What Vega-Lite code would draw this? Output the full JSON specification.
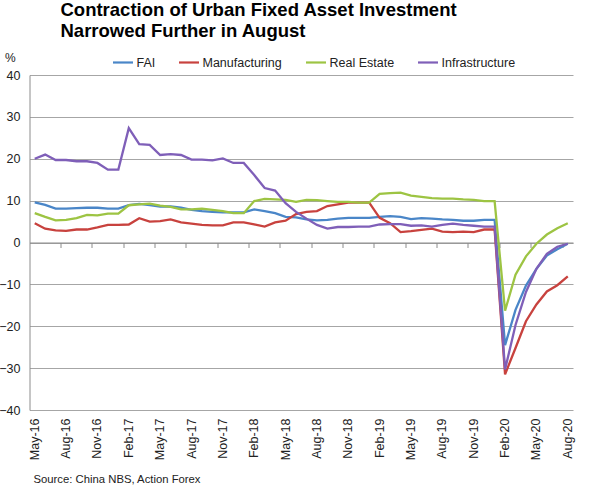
{
  "$schema": "https://vega.github.io/schema/vega-lite/v6.json",
  "width": 543.5,
  "height": 335,
  "autosize": "none",
  "padding": {"left": 29.5, "top": 75, "right": 27, "bottom": 77},
  "title": {
    "text": ["Contraction of Urban Fixed Asset Investment", "Narrowed Further in August"],
    "anchor": "start",
    "frame": "group",
    "font": "Liberation Sans",
    "fontSize": 18.5,
    "fontWeight": "bold",
    "color": "#000000",
    "lineHeight": 21,
    "dx": 31,
    "offset": 11
  },
  "data": {
    "values": [
      {"month": "May-16", "series": "FAI", "value": 9.6},
      {"month": "Jun-16", "series": "FAI", "value": 9.0},
      {"month": "Jul-16", "series": "FAI", "value": 8.1},
      {"month": "Aug-16", "series": "FAI", "value": 8.1},
      {"month": "Sep-16", "series": "FAI", "value": 8.2},
      {"month": "Oct-16", "series": "FAI", "value": 8.3},
      {"month": "Nov-16", "series": "FAI", "value": 8.3},
      {"month": "Dec-16", "series": "FAI", "value": 8.1},
      {"month": "Jan-17", "series": "FAI", "value": 8.1},
      {"month": "Feb-17", "series": "FAI", "value": 8.9},
      {"month": "Mar-17", "series": "FAI", "value": 9.2},
      {"month": "Apr-17", "series": "FAI", "value": 8.9},
      {"month": "May-17", "series": "FAI", "value": 8.6},
      {"month": "Jun-17", "series": "FAI", "value": 8.6},
      {"month": "Jul-17", "series": "FAI", "value": 8.3},
      {"month": "Aug-17", "series": "FAI", "value": 7.8},
      {"month": "Sep-17", "series": "FAI", "value": 7.5},
      {"month": "Oct-17", "series": "FAI", "value": 7.3},
      {"month": "Nov-17", "series": "FAI", "value": 7.2},
      {"month": "Dec-17", "series": "FAI", "value": 7.2},
      {"month": "Jan-18", "series": "FAI", "value": 7.2},
      {"month": "Feb-18", "series": "FAI", "value": 7.9},
      {"month": "Mar-18", "series": "FAI", "value": 7.5},
      {"month": "Apr-18", "series": "FAI", "value": 7.0},
      {"month": "May-18", "series": "FAI", "value": 6.1},
      {"month": "Jun-18", "series": "FAI", "value": 6.0},
      {"month": "Jul-18", "series": "FAI", "value": 5.5},
      {"month": "Aug-18", "series": "FAI", "value": 5.3},
      {"month": "Sep-18", "series": "FAI", "value": 5.4},
      {"month": "Oct-18", "series": "FAI", "value": 5.7},
      {"month": "Nov-18", "series": "FAI", "value": 5.9},
      {"month": "Dec-18", "series": "FAI", "value": 5.9},
      {"month": "Jan-19", "series": "FAI", "value": 5.9},
      {"month": "Feb-19", "series": "FAI", "value": 6.1},
      {"month": "Mar-19", "series": "FAI", "value": 6.3},
      {"month": "Apr-19", "series": "FAI", "value": 6.1},
      {"month": "May-19", "series": "FAI", "value": 5.6},
      {"month": "Jun-19", "series": "FAI", "value": 5.8},
      {"month": "Jul-19", "series": "FAI", "value": 5.7},
      {"month": "Aug-19", "series": "FAI", "value": 5.5},
      {"month": "Sep-19", "series": "FAI", "value": 5.4},
      {"month": "Oct-19", "series": "FAI", "value": 5.2},
      {"month": "Nov-19", "series": "FAI", "value": 5.2},
      {"month": "Dec-19", "series": "FAI", "value": 5.4},
      {"month": "Jan-20", "series": "FAI", "value": 5.4},
      {"month": "Feb-20", "series": "FAI", "value": -24.5},
      {"month": "Mar-20", "series": "FAI", "value": -16.1},
      {"month": "Apr-20", "series": "FAI", "value": -10.3},
      {"month": "May-20", "series": "FAI", "value": -6.3},
      {"month": "Jun-20", "series": "FAI", "value": -3.1},
      {"month": "Jul-20", "series": "FAI", "value": -1.6},
      {"month": "Aug-20", "series": "FAI", "value": -0.3},

      {"month": "May-16", "series": "Manufacturing", "value": 4.6},
      {"month": "Jun-16", "series": "Manufacturing", "value": 3.3},
      {"month": "Jul-16", "series": "Manufacturing", "value": 2.9},
      {"month": "Aug-16", "series": "Manufacturing", "value": 2.8},
      {"month": "Sep-16", "series": "Manufacturing", "value": 3.1},
      {"month": "Oct-16", "series": "Manufacturing", "value": 3.1},
      {"month": "Nov-16", "series": "Manufacturing", "value": 3.6},
      {"month": "Dec-16", "series": "Manufacturing", "value": 4.2},
      {"month": "Jan-17", "series": "Manufacturing", "value": 4.2},
      {"month": "Feb-17", "series": "Manufacturing", "value": 4.3},
      {"month": "Mar-17", "series": "Manufacturing", "value": 5.8},
      {"month": "Apr-17", "series": "Manufacturing", "value": 5.0},
      {"month": "May-17", "series": "Manufacturing", "value": 5.1},
      {"month": "Jun-17", "series": "Manufacturing", "value": 5.5},
      {"month": "Jul-17", "series": "Manufacturing", "value": 4.8},
      {"month": "Aug-17", "series": "Manufacturing", "value": 4.5},
      {"month": "Sep-17", "series": "Manufacturing", "value": 4.2},
      {"month": "Oct-17", "series": "Manufacturing", "value": 4.1},
      {"month": "Nov-17", "series": "Manufacturing", "value": 4.1},
      {"month": "Dec-17", "series": "Manufacturing", "value": 4.8},
      {"month": "Jan-18", "series": "Manufacturing", "value": 4.8},
      {"month": "Feb-18", "series": "Manufacturing", "value": 4.3},
      {"month": "Mar-18", "series": "Manufacturing", "value": 3.8},
      {"month": "Apr-18", "series": "Manufacturing", "value": 4.8},
      {"month": "May-18", "series": "Manufacturing", "value": 5.2},
      {"month": "Jun-18", "series": "Manufacturing", "value": 6.8},
      {"month": "Jul-18", "series": "Manufacturing", "value": 7.3},
      {"month": "Aug-18", "series": "Manufacturing", "value": 7.5},
      {"month": "Sep-18", "series": "Manufacturing", "value": 8.7},
      {"month": "Oct-18", "series": "Manufacturing", "value": 9.1},
      {"month": "Nov-18", "series": "Manufacturing", "value": 9.5},
      {"month": "Dec-18", "series": "Manufacturing", "value": 9.5},
      {"month": "Jan-19", "series": "Manufacturing", "value": 9.5},
      {"month": "Feb-19", "series": "Manufacturing", "value": 5.9},
      {"month": "Mar-19", "series": "Manufacturing", "value": 4.6},
      {"month": "Apr-19", "series": "Manufacturing", "value": 2.5},
      {"month": "May-19", "series": "Manufacturing", "value": 2.7},
      {"month": "Jun-19", "series": "Manufacturing", "value": 3.0},
      {"month": "Jul-19", "series": "Manufacturing", "value": 3.3},
      {"month": "Aug-19", "series": "Manufacturing", "value": 2.6},
      {"month": "Sep-19", "series": "Manufacturing", "value": 2.5},
      {"month": "Oct-19", "series": "Manufacturing", "value": 2.6},
      {"month": "Nov-19", "series": "Manufacturing", "value": 2.5},
      {"month": "Dec-19", "series": "Manufacturing", "value": 3.1},
      {"month": "Jan-20", "series": "Manufacturing", "value": 3.1},
      {"month": "Feb-20", "series": "Manufacturing", "value": -31.5},
      {"month": "Mar-20", "series": "Manufacturing", "value": -25.2},
      {"month": "Apr-20", "series": "Manufacturing", "value": -18.8},
      {"month": "May-20", "series": "Manufacturing", "value": -14.8},
      {"month": "Jun-20", "series": "Manufacturing", "value": -11.7},
      {"month": "Jul-20", "series": "Manufacturing", "value": -10.2},
      {"month": "Aug-20", "series": "Manufacturing", "value": -8.1},

      {"month": "May-16", "series": "Real Estate", "value": 7.0},
      {"month": "Jun-16", "series": "Real Estate", "value": 6.1},
      {"month": "Jul-16", "series": "Real Estate", "value": 5.3},
      {"month": "Aug-16", "series": "Real Estate", "value": 5.4},
      {"month": "Sep-16", "series": "Real Estate", "value": 5.8},
      {"month": "Oct-16", "series": "Real Estate", "value": 6.6},
      {"month": "Nov-16", "series": "Real Estate", "value": 6.5},
      {"month": "Dec-16", "series": "Real Estate", "value": 6.9},
      {"month": "Jan-17", "series": "Real Estate", "value": 6.9},
      {"month": "Feb-17", "series": "Real Estate", "value": 8.9},
      {"month": "Mar-17", "series": "Real Estate", "value": 9.1},
      {"month": "Apr-17", "series": "Real Estate", "value": 9.3},
      {"month": "May-17", "series": "Real Estate", "value": 8.8},
      {"month": "Jun-17", "series": "Real Estate", "value": 8.5},
      {"month": "Jul-17", "series": "Real Estate", "value": 7.9},
      {"month": "Aug-17", "series": "Real Estate", "value": 7.9},
      {"month": "Sep-17", "series": "Real Estate", "value": 8.1},
      {"month": "Oct-17", "series": "Real Estate", "value": 7.8},
      {"month": "Nov-17", "series": "Real Estate", "value": 7.5},
      {"month": "Dec-17", "series": "Real Estate", "value": 7.0},
      {"month": "Jan-18", "series": "Real Estate", "value": 7.0},
      {"month": "Feb-18", "series": "Real Estate", "value": 9.9},
      {"month": "Mar-18", "series": "Real Estate", "value": 10.4},
      {"month": "Apr-18", "series": "Real Estate", "value": 10.3},
      {"month": "May-18", "series": "Real Estate", "value": 10.2},
      {"month": "Jun-18", "series": "Real Estate", "value": 9.7},
      {"month": "Jul-18", "series": "Real Estate", "value": 10.2},
      {"month": "Aug-18", "series": "Real Estate", "value": 10.1},
      {"month": "Sep-18", "series": "Real Estate", "value": 9.9},
      {"month": "Oct-18", "series": "Real Estate", "value": 9.7},
      {"month": "Nov-18", "series": "Real Estate", "value": 9.7},
      {"month": "Dec-18", "series": "Real Estate", "value": 9.5},
      {"month": "Jan-19", "series": "Real Estate", "value": 9.5},
      {"month": "Feb-19", "series": "Real Estate", "value": 11.6},
      {"month": "Mar-19", "series": "Real Estate", "value": 11.8},
      {"month": "Apr-19", "series": "Real Estate", "value": 11.9},
      {"month": "May-19", "series": "Real Estate", "value": 11.2},
      {"month": "Jun-19", "series": "Real Estate", "value": 10.9},
      {"month": "Jul-19", "series": "Real Estate", "value": 10.6},
      {"month": "Aug-19", "series": "Real Estate", "value": 10.5},
      {"month": "Sep-19", "series": "Real Estate", "value": 10.5},
      {"month": "Oct-19", "series": "Real Estate", "value": 10.3},
      {"month": "Nov-19", "series": "Real Estate", "value": 10.2},
      {"month": "Dec-19", "series": "Real Estate", "value": 9.9},
      {"month": "Jan-20", "series": "Real Estate", "value": 9.9},
      {"month": "Feb-20", "series": "Real Estate", "value": -16.3},
      {"month": "Mar-20", "series": "Real Estate", "value": -7.7},
      {"month": "Apr-20", "series": "Real Estate", "value": -3.3},
      {"month": "May-20", "series": "Real Estate", "value": -0.3},
      {"month": "Jun-20", "series": "Real Estate", "value": 1.9},
      {"month": "Jul-20", "series": "Real Estate", "value": 3.4},
      {"month": "Aug-20", "series": "Real Estate", "value": 4.6},

      {"month": "May-16", "series": "Infrastructure", "value": 20.0},
      {"month": "Jun-16", "series": "Infrastructure", "value": 21.0},
      {"month": "Jul-16", "series": "Infrastructure", "value": 19.7},
      {"month": "Aug-16", "series": "Infrastructure", "value": 19.7},
      {"month": "Sep-16", "series": "Infrastructure", "value": 19.4},
      {"month": "Oct-16", "series": "Infrastructure", "value": 19.4},
      {"month": "Nov-16", "series": "Infrastructure", "value": 19.0},
      {"month": "Dec-16", "series": "Infrastructure", "value": 17.4},
      {"month": "Jan-17", "series": "Infrastructure", "value": 17.4},
      {"month": "Feb-17", "series": "Infrastructure", "value": 27.3},
      {"month": "Mar-17", "series": "Infrastructure", "value": 23.5},
      {"month": "Apr-17", "series": "Infrastructure", "value": 23.3},
      {"month": "May-17", "series": "Infrastructure", "value": 20.9},
      {"month": "Jun-17", "series": "Infrastructure", "value": 21.1},
      {"month": "Jul-17", "series": "Infrastructure", "value": 20.9},
      {"month": "Aug-17", "series": "Infrastructure", "value": 19.8},
      {"month": "Sep-17", "series": "Infrastructure", "value": 19.8},
      {"month": "Oct-17", "series": "Infrastructure", "value": 19.6},
      {"month": "Nov-17", "series": "Infrastructure", "value": 20.1},
      {"month": "Dec-17", "series": "Infrastructure", "value": 19.0},
      {"month": "Jan-18", "series": "Infrastructure", "value": 19.0},
      {"month": "Feb-18", "series": "Infrastructure", "value": 16.1},
      {"month": "Mar-18", "series": "Infrastructure", "value": 13.0},
      {"month": "Apr-18", "series": "Infrastructure", "value": 12.4},
      {"month": "May-18", "series": "Infrastructure", "value": 9.4},
      {"month": "Jun-18", "series": "Infrastructure", "value": 7.3},
      {"month": "Jul-18", "series": "Infrastructure", "value": 5.7},
      {"month": "Aug-18", "series": "Infrastructure", "value": 4.2},
      {"month": "Sep-18", "series": "Infrastructure", "value": 3.3},
      {"month": "Oct-18", "series": "Infrastructure", "value": 3.7},
      {"month": "Nov-18", "series": "Infrastructure", "value": 3.7},
      {"month": "Dec-18", "series": "Infrastructure", "value": 3.8},
      {"month": "Jan-19", "series": "Infrastructure", "value": 3.8},
      {"month": "Feb-19", "series": "Infrastructure", "value": 4.3},
      {"month": "Mar-19", "series": "Infrastructure", "value": 4.4},
      {"month": "Apr-19", "series": "Infrastructure", "value": 4.4},
      {"month": "May-19", "series": "Infrastructure", "value": 4.0},
      {"month": "Jun-19", "series": "Infrastructure", "value": 4.1},
      {"month": "Jul-19", "series": "Infrastructure", "value": 3.8},
      {"month": "Aug-19", "series": "Infrastructure", "value": 4.2},
      {"month": "Sep-19", "series": "Infrastructure", "value": 4.5},
      {"month": "Oct-19", "series": "Infrastructure", "value": 4.2},
      {"month": "Nov-19", "series": "Infrastructure", "value": 4.0},
      {"month": "Dec-19", "series": "Infrastructure", "value": 3.8},
      {"month": "Jan-20", "series": "Infrastructure", "value": 3.8},
      {"month": "Feb-20", "series": "Infrastructure", "value": -30.3},
      {"month": "Mar-20", "series": "Infrastructure", "value": -19.7},
      {"month": "Apr-20", "series": "Infrastructure", "value": -11.8},
      {"month": "May-20", "series": "Infrastructure", "value": -6.3},
      {"month": "Jun-20", "series": "Infrastructure", "value": -2.7},
      {"month": "Jul-20", "series": "Infrastructure", "value": -1.0},
      {"month": "Aug-20", "series": "Infrastructure", "value": -0.3}
    ]
  },
  "encoding": {
    "y": {
      "field": "value",
      "type": "quantitative",
      "title": "%",
      "scale": {"domain": [-40, 40], "nice": false, "zero": false},
      "axis": {
        "values": [-40, -30, -20, -10, 0, 10, 20, 30, 40],
        "grid": true,
        "gridColor": "#A6A6A6",
        "gridWidth": 1,
        "ticks": false,
        "domain": true,
        "domainColor": "#8C8C8C",
        "labelPadding": 9.5,
        "labelFontSize": 12.5,
        "labelColor": "#222222",
        "titleAngle": 0,
        "titleX": -25,
        "titleY": -14,
        "titleAlign": "left",
        "titleBaseline": "alphabetic",
        "titleFontSize": 12,
        "titleFontWeight": "normal",
        "titleColor": "#222222"
      }
    }
  },
  "layer": [
    {
      "mark": {"type": "line", "strokeWidth": 2.3},
      "encoding": {
        "x": {
          "field": "month",
          "type": "ordinal",
          "sort": null,
          "scale": {"type": "band", "paddingInner": 0, "paddingOuter": 0},
          "axis": {
            "orient": "bottom",
            "values": ["May-16", "Aug-16", "Nov-16", "Feb-17", "May-17", "Aug-17", "Nov-17", "Feb-18", "May-18", "Aug-18", "Nov-18", "Feb-19", "May-19", "Aug-19", "Nov-19", "Feb-20", "May-20", "Aug-20"],
            "labelAngle": -90,
            "labelFontSize": 12.5,
            "labelColor": "#222222",
            "labelPadding": 8,
            "ticks": false,
            "domain": false,
            "grid": false,
            "title": "Source: China NBS, Action Forex",
            "titleX": 3.5,
            "titleY": 72,
            "titleAlign": "left",
            "titleAnchor": "start",
            "titleBaseline": "alphabetic",
            "titleFontSize": 11.3,
            "titleFontWeight": "normal",
            "titleColor": "#222222"
          }
        },
        "color": {
          "field": "series",
          "type": "nominal",
          "sort": null,
          "scale": {
            "domain": ["FAI", "Manufacturing", "Real Estate", "Infrastructure"],
            "range": ["#4A86C8", "#C8423E", "#9DC443", "#7F5FB8"]
          },
          "legend": {
            "orient": "none",
            "legendX": 82,
            "legendY": -24,
            "direction": "horizontal",
            "title": null,
            "symbolType": "stroke",
            "symbolSize": 400,
            "symbolStrokeWidth": 2.2,
            "labelFontSize": 12.5,
            "labelColor": "#222222",
            "labelOffset": 2,
            "columnPadding": 19
          }
        }
      }
    },
    {
      "mark": {"type": "line", "opacity": 0},
      "encoding": {
        "x": {
          "field": "month",
          "type": "ordinal",
          "sort": null,
          "scale": {"type": "band", "paddingInner": 0, "paddingOuter": 0},
          "axis": {
            "orient": "bottom",
            "values": ["Aug-16", "Nov-16", "Feb-17", "May-17", "Aug-17", "Nov-17", "Feb-18", "May-18", "Aug-18", "Nov-18", "Feb-19", "May-19", "Aug-19", "Nov-19", "Feb-20", "May-20", "Aug-20"],
            "bandPosition": 0,
            "labels": false,
            "ticks": true,
            "tickSize": 5,
            "tickColor": "#8C8C8C",
            "domain": true,
            "domainColor": "#8C8C8C",
            "grid": false,
            "offset": -167.5,
            "title": null
          }
        },
        "detail": {"field": "series", "type": "nominal"}
      }
    }
  ],
  "resolve": {"scale": {"x": "independent"}},
  "config": {
    "font": "Liberation Sans",
    "view": {"stroke": null},
    "background": "#ffffff"
  }
}
